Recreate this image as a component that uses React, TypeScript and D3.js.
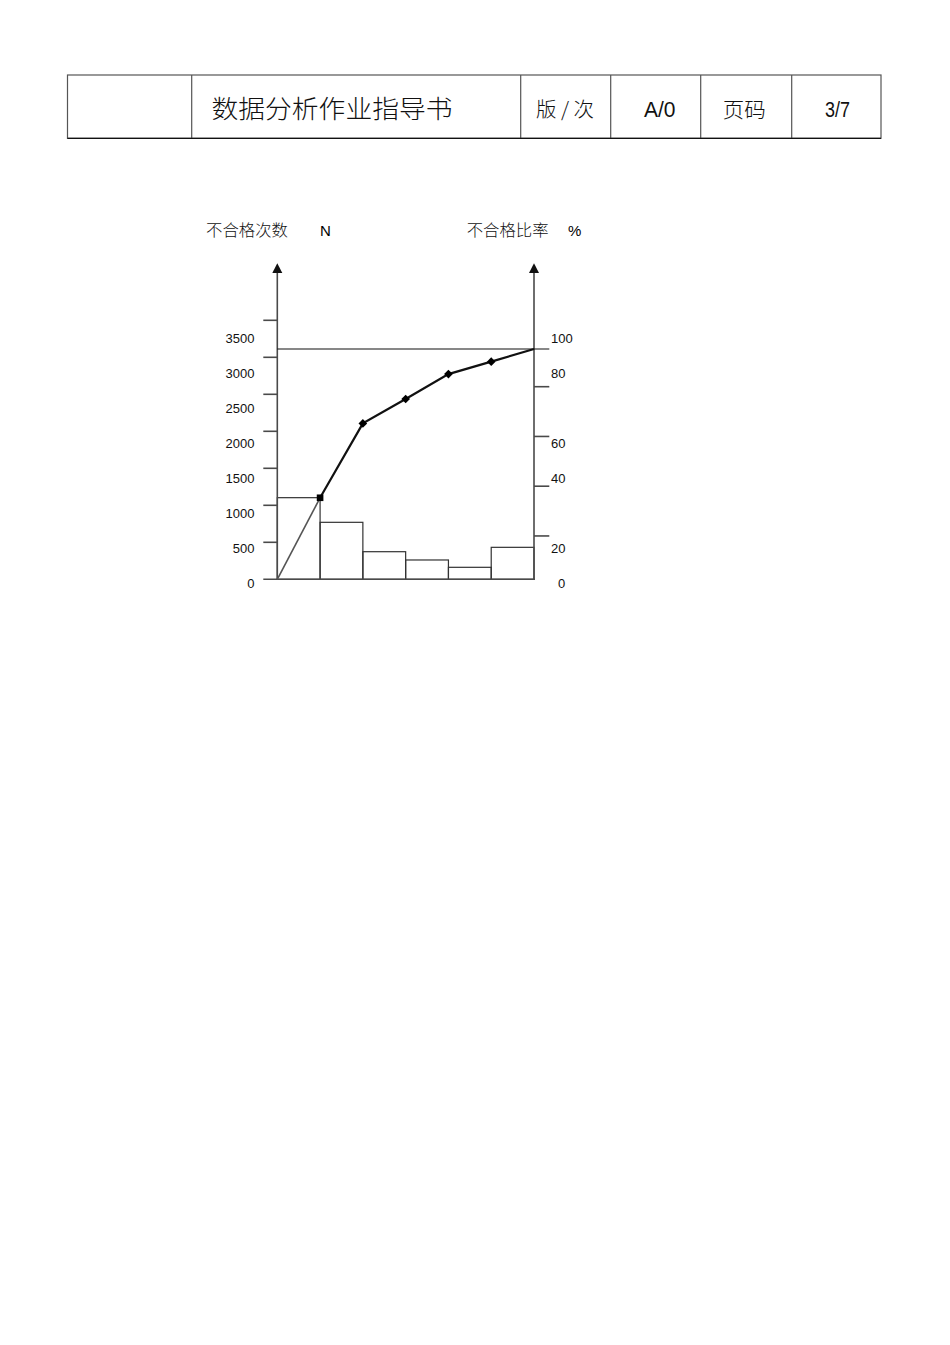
import React from 'react';
import * as d3 from 'd3';

// header cells of the document
const headerTitle = '数据分析作业指导书';
const headerCells = ['版 / 次', 'A/0', '页码', '3/7'];

// pareto data
const defectCounts = [1103, 770, 373, 261, 162, 432];
const cumulativePct = [0, 35.4, 67.7, 78.3, 89.1, 94.5, 100];
const leftTicks = [0, 500, 1000, 1500, 2000, 2500, 3000, 3500];
const rightTicks = [20, 40, 60, 80];
const rightLabels = ['0', '20', '40', '60', '80', '100'];
// the right labels sit on the same rows as these left labels
const rightLabelRows = [0, 500, 1500, 2000, 3000, 3500];

const CJK = '"Noto Sans CJK SC", "Noto Sans", sans-serif';
const LAT = '"Liberation Sans", Arial, sans-serif';

const App: React.FC = () => {
  const x0 = 277.3;
  const x1 = 534;
  const y0 = 579.3;

  const x = d3.scaleLinear().domain([0, defectCounts.length]).range([x0, x1]);
  const yLeft = d3.scaleLinear().domain([0, 3500]).range([y0, 320.3]);
  const yLabel = d3.scaleLinear().domain([0, 3500]).range([588, 343.3]);
  const yPct = d3.scaleLinear().domain([0, 100]).range([y0, 349]);
  const yRightTick = d3.scaleLinear().domain([0, 80]).range([585.7, 386.7]);

  const line = d3.line<number>()
    .x((_, i) => x(i))
    .y(d => yPct(d));

  const marker = d3.symbol().type(d3.symbolDiamond2).size(48)();
  const squareMarker = d3.symbol().type(d3.symbolSquare).size(44)();

  const axisColor = '#4a4a4a';
  const arrow = (cx: number) => `M${cx},263.3L${cx - 5},273L${cx + 5},273Z`;

  // header column borders
  const cols = [67.5, 191.7, 520.7, 610.7, 700.7, 791.7, 881];
  const cellText = [
    { x: 536, w: 58, size: 20, font: CJK },
    { x: 644, w: 31.5, size: 22, font: LAT },
    { x: 722.7, w: 43, size: 21, font: CJK },
    { x: 825, w: 25, size: 22, font: LAT },
  ];

  return (
    <svg width={950} height={1345} style={{ position: 'absolute', left: 0, top: 0, background: '#fff' }}>
      {/* header table */}
      <g stroke="#555" strokeWidth={1.2} fill="none">
        <rect x={cols[0]} y={75} width={cols[6] - cols[0]} height={63.3} />
        {cols.slice(1, -1).map(c => (
          <line key={c} x1={c} x2={c} y1={75} y2={138.3} />
        ))}
      </g>
      <line x1={cols[0]} x2={cols[6]} y1={138.3} y2={138.3} stroke="#111" strokeWidth={1.3} />
      <text x={211.5} y={117.5} fontSize={25} fontWeight={300} fontFamily={CJK} textLength={241}
        lengthAdjust="spacingAndGlyphs" fill="#111">
        {headerTitle}
      </text>
      {headerCells.map((t, i) => (
        <text key={t} x={cellText[i].x} y={116.5} fontSize={cellText[i].size} fontWeight={cellText[i].font === CJK ? 300 : 400}
          fontFamily={cellText[i].font} textLength={cellText[i].w} lengthAdjust="spacingAndGlyphs" fill="#111">
          {t}
        </text>
      ))}

      {/* axis titles */}
      <text x={206} y={235.5} fontSize={16.4} fontWeight={300} fontFamily={CJK} fill="#111">不合格次数</text>
      <text x={320} y={235.5} fontSize={15} fontFamily={LAT}>N</text>
      <text x={466.7} y={235.5} fontSize={16.4} fontWeight={300} fontFamily={CJK} fill="#111">不合格比率</text>
      <text x={568} y={235.5} fontSize={15} fontFamily={LAT}>%</text>

      {/* bars */}
      <g stroke="#333" strokeWidth={1.2} fill="none">
        {defectCounts.map((v, i) => (
          <rect key={i} x={x(i)} y={yLeft(v)} width={x(i + 1) - x(i)} height={y0 - yLeft(v)} />
        ))}
      </g>

      {/* axes */}
      <g stroke={axisColor} strokeWidth={1.6}>
        <line x1={x0} x2={x0} y1={270} y2={y0} />
        <line x1={x1} x2={x1} y1={270} y2={y0} />
        <line x1={263.3} x2={x1 + 1} y1={y0} y2={y0} />
        {leftTicks.slice(1).map(t => (
          <line key={t} x1={263.3} x2={x0} y1={yLeft(t)} y2={yLeft(t)} />
        ))}
        {rightTicks.map(t => (
          <line key={t} x1={x1} x2={549.3} y1={yRightTick(t)} y2={yRightTick(t)} />
        ))}
      </g>
      <path d={arrow(x0)} fill="#111" />
      <path d={arrow(x1)} fill="#111" />
      <line x1={x0} x2={549.3} y1={yPct(100)} y2={yPct(100)} stroke="#111" strokeWidth={1.2} />

      {/* tick labels */}
      <g fontSize={13} fontFamily={LAT} fill="#111">
        {leftTicks.map(t => (
          <text key={t} x={254.5} y={yLabel(t)} textAnchor="end">{t}</text>
        ))}
        {rightLabels.map((t, i) => (
          <text key={t} x={t === '0' ? 558 : 551} y={yLabel(rightLabelRows[i])}>{t}</text>
        ))}
      </g>

      {/* cumulative line */}
      <path d={line(cumulativePct.slice(0, 2)) ?? ''} fill="none" stroke="#555" strokeWidth={1.6} />
      <path
        d={d3.line<number>().x((_, i) => x(i + 1)).y(d => yPct(d))(cumulativePct.slice(1)) ?? ''}
        fill="none" stroke="#111" strokeWidth={2.2}
      />
      {cumulativePct.slice(1, -1).map((p, i) => (
        <path key={i} d={(i === 0 ? squareMarker : marker) ?? ''}
          transform={`translate(${x(i + 1)},${yPct(p)})`} fill="#000" />
      ))}
    </svg>
  );
};

export default App;
